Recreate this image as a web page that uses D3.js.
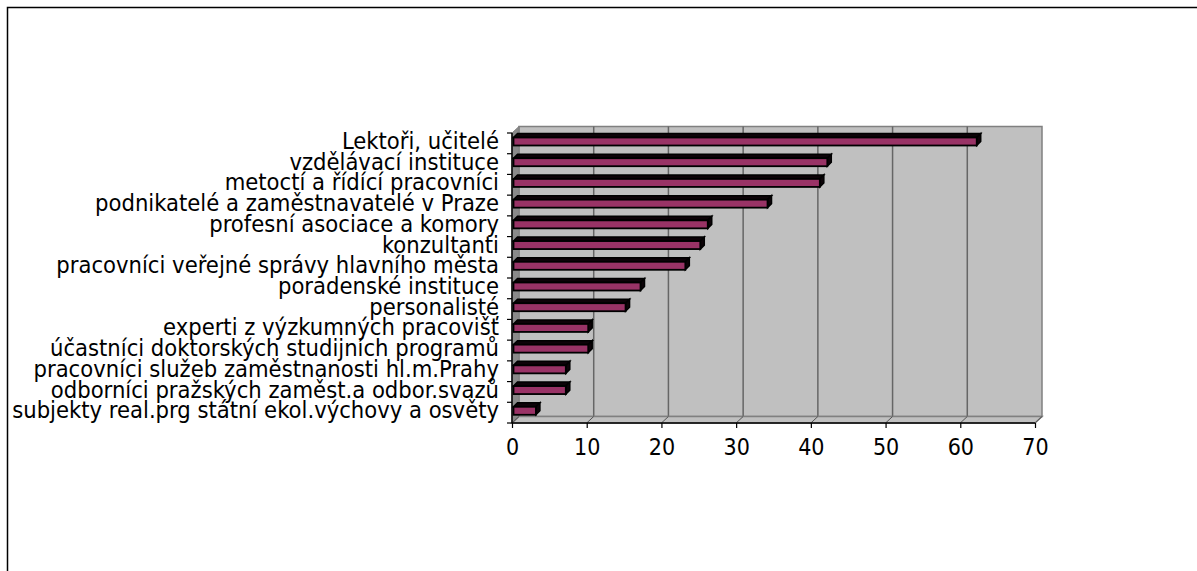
<!DOCTYPE html>
<html><head><meta charset="utf-8">
<script src="https://cdn.jsdelivr.net/npm/d3@7/dist/d3.min.js"></script>
<style>
html,body{margin:0;padding:0;background:#fff;}
svg text{font-family:"DejaVu Sans Condensed","DejaVu Sans",sans-serif;font-stretch:condensed;fill:#000;}
</style></head>
<body>
<svg id="chart" width="1197" height="571"></svg>
<script>
const categories = [
  "Lektoři, učitelé",
  "vzdělávací instituce",
  "metoctí a řídící pracovníci",
  "podnikatelé a zaměstnavatelé v Praze",
  "profesní asociace a komory",
  "konzultanti",
  "pracovníci veřejné správy hlavního města",
  "poradenské instituce",
  "personalisté",
  "experti z výzkumných pracovišť",
  "účastníci doktorských studijních programů",
  "pracovníci služeb zaměstnanosti hl.m.Prahy",
  "odborníci pražských zaměst.a odbor.svazů",
  "subjekty real.prg státní ekol.výchovy a osvěty"
];
const values = [62, 42, 41, 34, 26, 25, 23, 17, 15, 10, 10, 7, 7, 3];
const xTicks = [0, 10, 20, 30, 40, 50, 60, 70];

const svg = d3.select("#chart");

// outer frame
svg.append("rect").attr("x", 7.5).attr("y", 7.5).attr("width", 1300).attr("height", 700)
  .attr("fill", "none").attr("stroke", "#000").attr("stroke-width", 1.5);

const x = d3.scaleLinear().domain([0, 70]).range([512, 1035]);
const y = d3.scaleBand().domain(categories).range([133, 423]).padding(0);
const DX = 7, DY = -6.5;   // depth offset of the 3D box
const x0 = x(0), x1 = x(70), yT = y.range()[0], yB = y.range()[1];

// back wall
svg.append("rect").attr("x", x0 + DX).attr("y", yT + DY).attr("width", x1 - x0).attr("height", yB - yT)
  .attr("fill", "#c0c0c0").attr("stroke", "#808080").attr("stroke-width", 1.5);
// gridlines on back wall
svg.append("g").selectAll("line").data(xTicks.slice(1, -1)).join("line")
  .attr("x1", d => x(d) + DX).attr("x2", d => x(d) + DX)
  .attr("y1", yT + DY).attr("y2", yB + DY)
  .attr("stroke", "#666").attr("stroke-width", 1.5);
// left wall
svg.append("polygon")
  .attr("points", [[x0, yT], [x0 + DX, yT + DY], [x0 + DX, yB + DY], [x0, yB]].join(" "))
  .attr("fill", "#8a8a8a").attr("stroke", "#808080").attr("stroke-width", 1);
// floor
svg.append("polygon")
  .attr("points", [[x0, yB], [x0 + DX, yB + DY], [x1 + DX, yB + DY], [x1, yB]].join(" "))
  .attr("fill", "#c0c0c0").attr("stroke", "#808080").attr("stroke-width", 1.5);
// floor diagonal ticks
svg.append("g").selectAll("line").data(xTicks).join("line")
  .attr("x1", d => x(d)).attr("x2", d => x(d) + DX)
  .attr("y1", yB).attr("y2", yB + DY)
  .attr("stroke", "#555").attr("stroke-width", 1);

// bars
const BD = 4, BH = 8, BOFF = 1.5;
const bars = svg.append("g");
categories.forEach((c, i) => {
  const v = values[i];
  const fx0 = x(0) + BOFF, fx1 = x(v) + BOFF;
  const fy0 = y(c) + 4.5, fy1 = fy0 + BH;
  bars.append("polygon")
    .attr("points", [[fx0, fy0], [fx0 + BD, fy0 - BD], [fx1 + BD, fy0 - BD], [fx1, fy0]].join(" "))
    .attr("fill", "#0d0308").attr("stroke", "#000").attr("stroke-width", 1.5);
  bars.append("polygon")
    .attr("points", [[fx1, fy0], [fx1 + BD, fy0 - BD], [fx1 + BD, fy1 - BD], [fx1, fy1]].join(" "))
    .attr("fill", "#0d0308").attr("stroke", "#000").attr("stroke-width", 1.5);
  bars.append("rect").attr("x", fx0).attr("y", fy0).attr("width", fx1 - fx0).attr("height", BH)
    .attr("fill", "#993366").attr("stroke", "#000").attr("stroke-width", 1.8);
});

// axes
const gy = svg.append("g").attr("transform", `translate(${x0},0)`).call(d3.axisLeft(y).tickSize(5).tickFormat(""));
gy.select(".domain").attr("stroke", "#000").attr("stroke-width", 1.5).attr("d", `M0,${yT}V${yB}`);
gy.selectAll(".tick").remove();
gy.selectAll("line.bt").data(d3.range(categories.length + 1)).join("line").attr("class", "bt")
  .attr("x1", -5).attr("x2", 0)
  .attr("y1", i => yT + i * y.step()).attr("y2", i => yT + i * y.step())
  .attr("stroke", "#000").attr("stroke-width", 1.2);

const gx = svg.append("g").attr("transform", `translate(0,${yB})`)
  .call(d3.axisBottom(x).tickValues(xTicks).tickSize(5).tickPadding(11));
gx.select(".domain").attr("stroke", "#000").attr("stroke-width", 1.5).attr("d", `M${x0},0H${x1}`);
gx.selectAll(".tick line").attr("stroke", "#000").attr("stroke-width", 1.2);
gx.selectAll(".tick text").attr("font-size", 23).attr("font-family", null).attr("dy", "0.71em");

// category labels
const labels = svg.append("g").selectAll("text").data(categories).join("text")
  .attr("x", 499).attr("y", d => y(d) + 16)
  .attr("text-anchor", "end").attr("font-size", 20).text(d => d);
let maxW = 0;
labels.each(function () { maxW = Math.max(maxW, this.getComputedTextLength()); });
labels.attr("font-size", 20 * 487 / maxW);
</script>
</body></html>
